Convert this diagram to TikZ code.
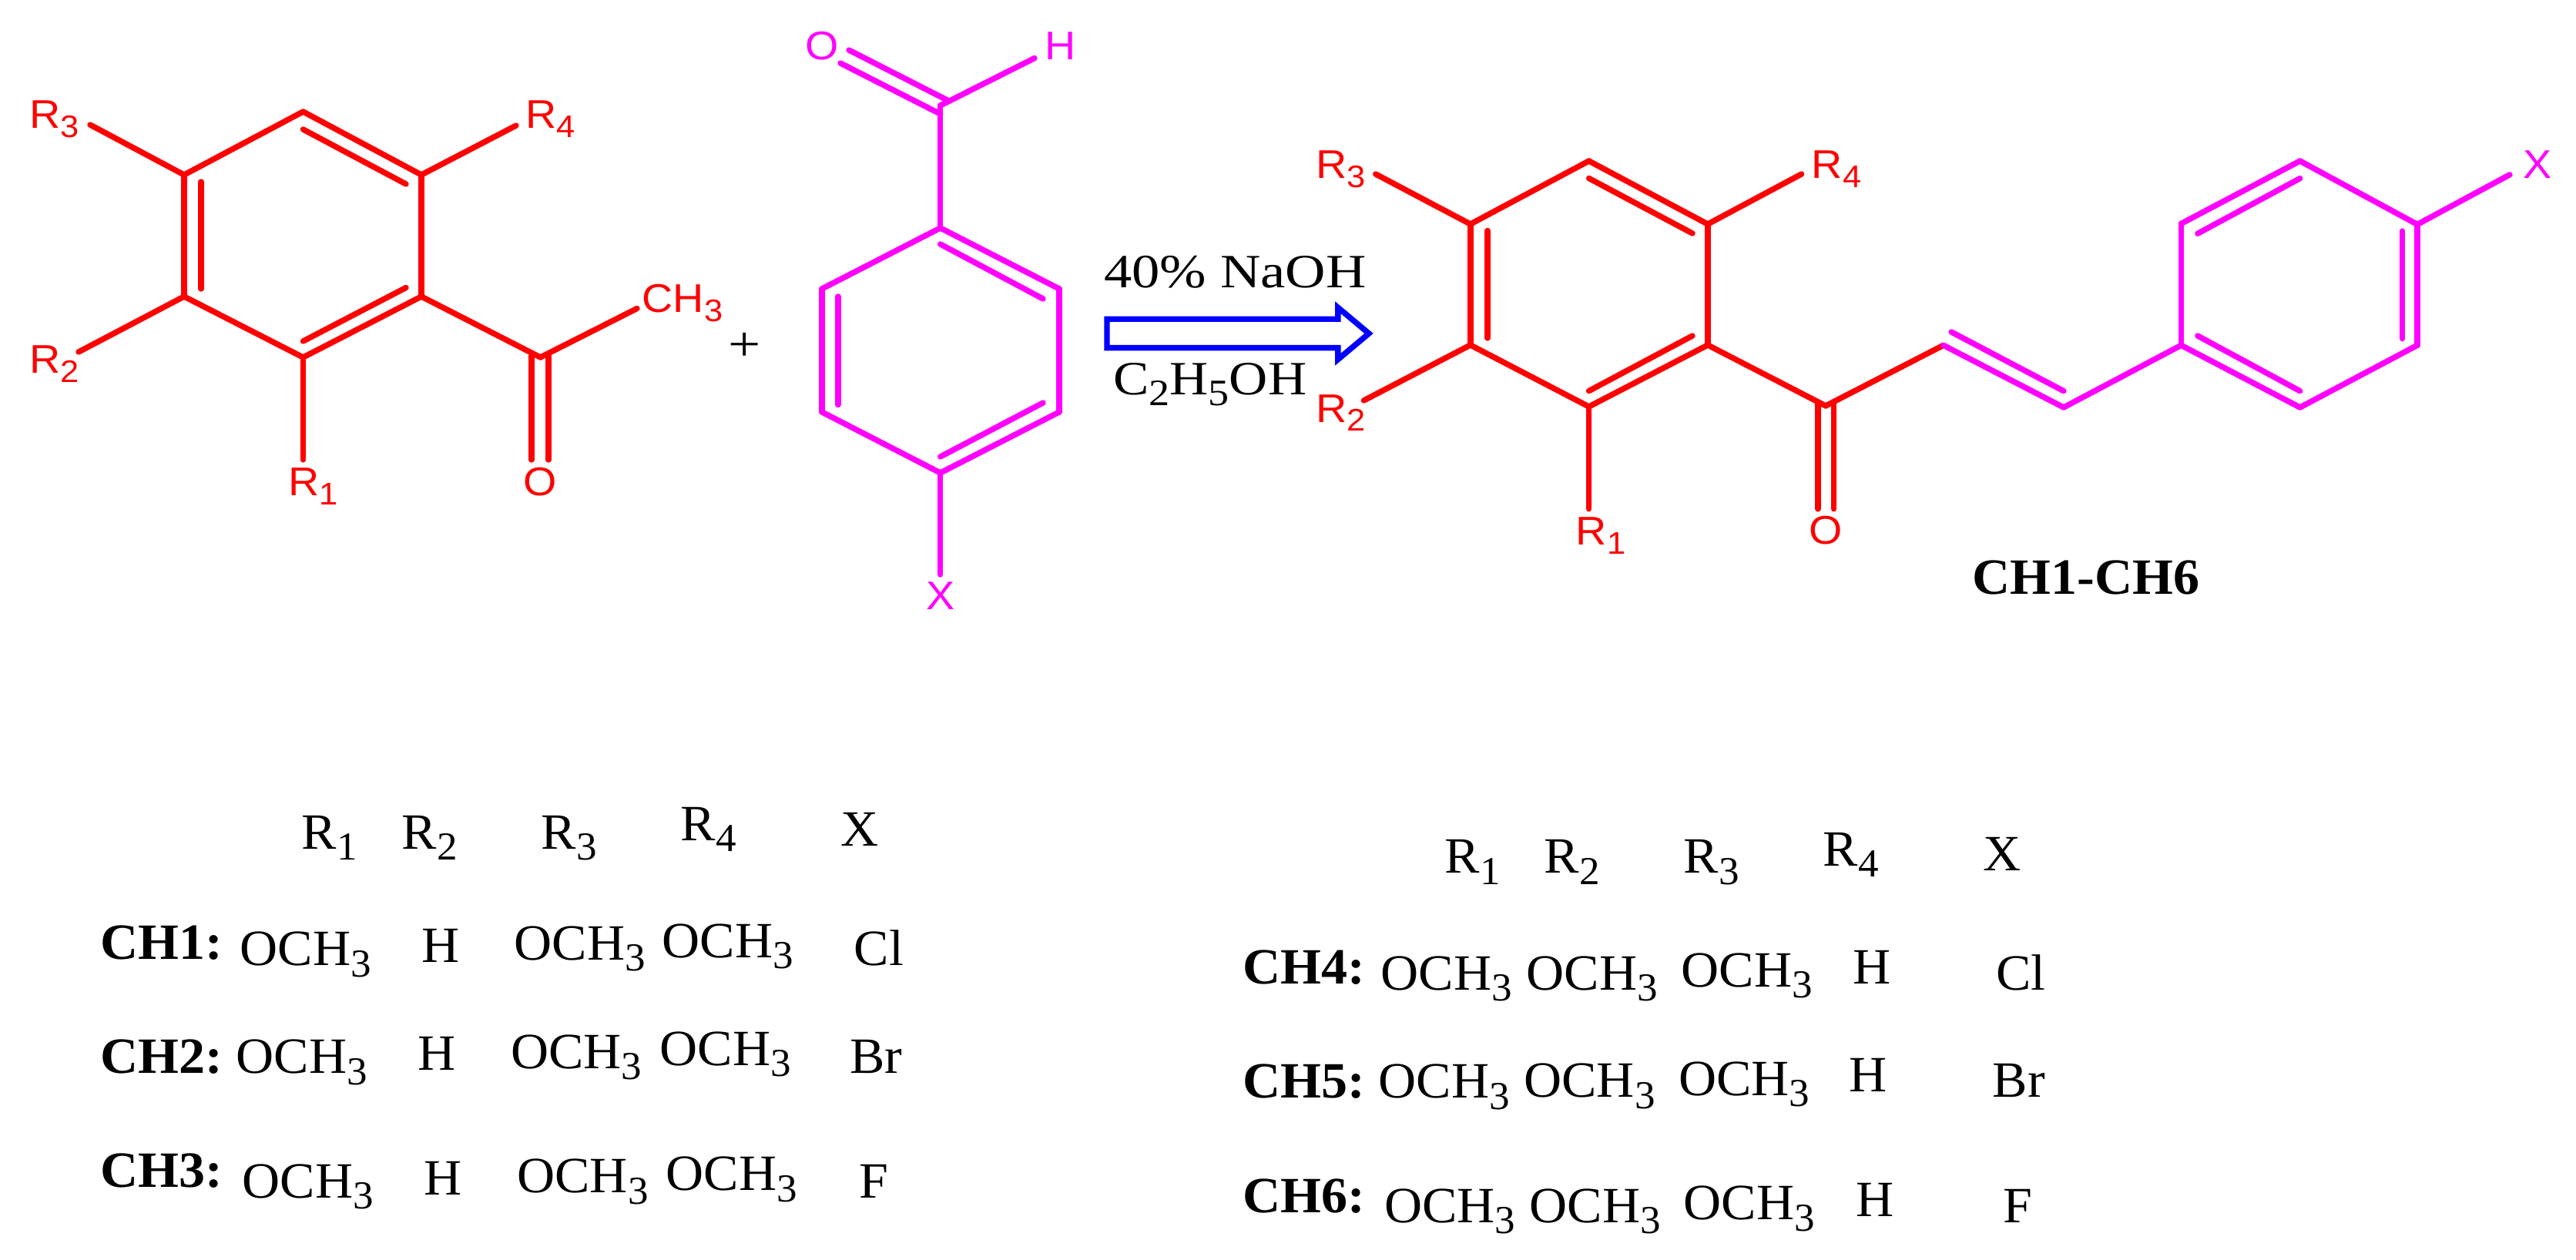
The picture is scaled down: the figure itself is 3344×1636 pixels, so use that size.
\documentclass[tikz,border=0pt]{standalone}
\usepackage{fontspec}
\usepackage{graphicx}
\usetikzlibrary{shapes.arrows}
\newfontfamily\chemfont[FakeStretch=1.07]{Liberation Sans}
\newfontfamily\tabfont[FakeStretch=1.03]{Liberation Serif}
\newfontfamily\rxnfont[FakeStretch=1.17]{Liberation Serif}
\newfontfamily\etohfont[FakeStretch=1.12]{Liberation Serif}
\newcommand{\lowsub}[1]{\raisebox{-0.22em}{\scalebox{0.78}{#1}}}
\definecolor{chemred}{RGB}{255,0,0}
\definecolor{chempink}{RGB}{255,0,255}
\definecolor{chemblue}{RGB}{0,0,255}
\tikzset{
  redbond/.style={draw=chemred,line width=1.85pt,line cap=round,line join=round},
  pinkbond/.style={draw=chempink,line width=1.85pt,line cap=round,line join=round},
  redlab/.style={text=chemred,anchor=base west,inner sep=0pt,font=\chemfont\fontsize{13}{15}\selectfont},
  pinklab/.style={text=chempink,anchor=base west,inner sep=0pt,font=\chemfont\fontsize{13}{15}\selectfont},
  tab/.style={anchor=base west,inner sep=0pt,font=\tabfont\fontsize{16.5}{19}\selectfont},
  tabhead/.style={anchor=base west,inner sep=0pt,font=\tabfont\bfseries\fontsize{16.5}{19}\selectfont},
  rxn/.style={anchor=base west,inner sep=0pt,font=\rxnfont\fontsize{15.5}{18}\selectfont}
}
\begin{document}
\begin{tikzpicture}[x=0.25pt,y=-0.25pt]
\useasboundingbox (0,0) rectangle (3344,1636);
% left ketone
\coordinate (a1) at (393.5,145);
\coordinate (a2) at (547,227);
\coordinate (a3) at (547,385);
\coordinate (a4) at (393.5,464);
\coordinate (a5) at (239,385);
\coordinate (a6) at (239,227);
\coordinate (a12s) at (393.5,168);
\coordinate (a12e) at (527,239);
\coordinate (a34s) at (527,373.5);
\coordinate (a34e) at (393.5,443);
\coordinate (a56s) at (261,375);
\coordinate (a56e) at (261,236);
\coordinate (ar3) at (117,162);
\coordinate (ar4) at (670,163);
\coordinate (ar2) at (102,457);
\coordinate (ar1) at (393.5,597);
\coordinate (ac) at (701.5,464);
\coordinate (ame) at (827,400.5);
\coordinate (ao1s) at (690,462);
\coordinate (ao1e) at (690,597);
\coordinate (ao2s) at (712,462);
\coordinate (ao2e) at (712,597);
\node[redlab] (ra3) at (38,167) {R\lowsub{3}};
\node[redlab] (ra4) at (682,167) {R\lowsub{4}};
\node[redlab] (ra2) at (38,485) {R\lowsub{2}};
\node[redlab] (ra1) at (374,644) {R\lowsub{1}};
\node[redlab] (mea) at (833,406) {CH\lowsub{3}};
\node[redlab,anchor=base] (oa) at (701.5,644) {O};
\draw[redbond]
(a1) edge (a2)
(a2) edge (a3)
(a3) edge (a4)
(a4) edge (a5)
(a5) edge (a6)
(a6) edge (a1)
(a12s) edge (a12e)
(a34s) edge (a34e)
(a56s) edge (a56e)
(a6) edge (ar3)
(a2) edge (ar4)
(a5) edge (ar2)
(a4) edge (ar1)
(a3) edge (ac)
(ac) edge (ame)
(ao1s) edge (ao1e)
(ao2s) edge (ao2e);
\node[rxn,anchor=center,font=\rxnfont\fontsize{16}{18}\selectfont] (plus) at (967,450) {+};
% aldehyde
\coordinate (b1) at (1220.7,296);
\coordinate (b2) at (1375,375);
\coordinate (b3) at (1375,535);
\coordinate (b4) at (1220.7,614);
\coordinate (b5) at (1067,535);
\coordinate (b6) at (1067,375);
\coordinate (b12s) at (1220.7,317);
\coordinate (b12e) at (1354,388);
\coordinate (b34s) at (1354,523);
\coordinate (b34e) at (1220.7,593);
\coordinate (b56s) at (1088,525.5);
\coordinate (b56e) at (1088,385);
\coordinate (bc) at (1220.7,137);
\coordinate (bh) at (1343,75.5);
\coordinate (bo1s) at (1091,82);
\coordinate (bo1e) at (1220.7,148);
\coordinate (bo2s) at (1102,65);
\coordinate (bo2e) at (1229.6,130);
\coordinate (bx) at (1220.7,746);
\node[pinklab,anchor=base] (ob) at (1067,77.5) {O};
\node[pinklab] (hb) at (1356,77.5) {H};
\node[pinklab,anchor=base] (xb) at (1220.7,792) {X};
\draw[pinkbond]
(b1) edge (b2)
(b2) edge (b3)
(b3) edge (b4)
(b4) edge (b5)
(b5) edge (b6)
(b6) edge (b1)
(b12s) edge (b12e)
(b34s) edge (b34e)
(b56s) edge (b56e)
(b1) edge (bc)
(bc) edge (bh)
(bo1s) edge (bo1e)
(bo2s) edge (bo2e)
(b4) edge (bx);
% arrow
\node[rxn] (naoh) at (1432.4,373.5) {40\% NaOH};
\node[rxn,font=\etohfont\fontsize{15.5}{18}\selectfont] (etoh) at (1444.5,512.8) {C\lowsub{2}H\lowsub{5}OH};
\node[single arrow,draw=chemblue,line width=1.85pt,anchor=tail,outer sep=0pt,inner sep=0pt,
  text width=0pt,text height=7.5pt,text depth=0pt,minimum height=85pt,minimum width=15.5pt,
  single arrow head extend=3.75pt,single arrow tip angle=80] (rxnarrow) at (1437,433) {};
% chalcone
\coordinate (c1) at (2062.6,209);
\coordinate (c2) at (2216.9,291);
\coordinate (c3) at (2216.9,448);
\coordinate (c4) at (2062.6,528);
\coordinate (c5) at (1908.8,448);
\coordinate (c6) at (1908.8,291);
\coordinate (c12s) at (2062.6,231.5);
\coordinate (c12e) at (2197,303);
\coordinate (c34s) at (2197,436);
\coordinate (c34e) at (2062.6,507.6);
\coordinate (c56s) at (1931,439);
\coordinate (c56e) at (1931,299.5);
\coordinate (cr3) at (1785.7,226);
\coordinate (cr4) at (2338.6,226);
\coordinate (cr2) at (1770.4,520);
\coordinate (cr1) at (2062.6,660.8);
\coordinate (cc) at (2370,527);
\coordinate (co1s) at (2360,523.4);
\coordinate (co1e) at (2360,660.8);
\coordinate (co2s) at (2380.6,523.4);
\coordinate (co2e) at (2380.6,660.8);
\coordinate (v1) at (2522.8,448.3);
\coordinate (v2) at (2678.9,529);
\coordinate (v12s) at (2533,431);
\coordinate (v12e) at (2678.9,507.7);
\coordinate (d1) at (2985.7,209);
\coordinate (d2) at (3138,291.4);
\coordinate (d3) at (3138,448.3);
\coordinate (d4) at (2985.7,529);
\coordinate (d5) at (2831.4,448.3);
\coordinate (d6) at (2831.4,290.4);
\coordinate (d61s) at (2852.8,303.3);
\coordinate (d61e) at (2985.7,231.6);
\coordinate (d23s) at (3118.6,300);
\coordinate (d23e) at (3118.6,439.7);
\coordinate (d45s) at (2985.7,507.7);
\coordinate (d45e) at (2852.8,436);
\coordinate (dx) at (3258,226.8);
\node[redlab] (rc3) at (1708,232) {R\lowsub{3}};
\node[redlab] (rc4) at (2351,231.6) {R\lowsub{4}};
\node[redlab] (rc2) at (1708,548.5) {R\lowsub{2}};
\node[redlab] (rc1) at (2045,707.6) {R\lowsub{1}};
\node[redlab,anchor=base] (oc) at (2370,706.7) {O};
\node[pinklab,anchor=base] (xd) at (3294,231.6) {X};
\draw[redbond]
(c1) edge (c2)
(c2) edge (c3)
(c3) edge (c4)
(c4) edge (c5)
(c5) edge (c6)
(c6) edge (c1)
(c12s) edge (c12e)
(c34s) edge (c34e)
(c56s) edge (c56e)
(c6) edge (cr3)
(c2) edge (cr4)
(c5) edge (cr2)
(c4) edge (cr1)
(c3) edge (cc)
(cc) edge (v1)
(co1s) edge (co1e)
(co2s) edge (co2e);
\draw[pinkbond]
(v1) edge (v2)
(v12s) edge (v12e)
(v2) edge (d5)
(d1) edge (d2)
(d2) edge (d3)
(d3) edge (d4)
(d4) edge (d5)
(d5) edge (d6)
(d6) edge (d1)
(d61s) edge (d61e)
(d23s) edge (d23e)
(d45s) edge (d45e)
(d2) edge (dx);
\node[tabhead] (title) at (2560,772) {CH1-CH6};
% left table
\node[tab] (lr1) at (391,1102) {R\lowsub{1}};
\node[tab] (lr2) at (521,1102) {R\lowsub{2}};
\node[tab] (lr3) at (702,1102) {R\lowsub{3}};
\node[tab] (lr4) at (883,1091) {R\lowsub{4}};
\node[tab] (lx) at (1091,1098) {X};
\node[tabhead] (ch1) at (130,1245.4) {CH1:};
\node[tab] (ch1a) at (311,1253.5) {OCH\lowsub{3}};
\node[tab] (ch1b) at (546.8,1249.5) {H};
\node[tab] (ch1c) at (667,1246) {OCH\lowsub{3}};
\node[tab] (ch1d) at (859,1243) {OCH\lowsub{3}};
\node[tab] (ch1e) at (1108,1253.5) {Cl};
\node[tabhead] (ch2) at (130,1393.5) {CH2:};
\node[tab] (ch2a) at (306,1393.5) {OCH\lowsub{3}};
\node[tab] (ch2b) at (542,1389.4) {H};
\node[tab] (ch2c) at (662.6,1387.4) {OCH\lowsub{3}};
\node[tab] (ch2d) at (856,1383.4) {OCH\lowsub{3}};
\node[tab] (ch2e) at (1102.6,1393.5) {Br};
\node[tabhead] (ch3) at (130,1541.6) {CH3:};
\node[tab] (ch3a) at (314,1555) {OCH\lowsub{3}};
\node[tab] (ch3b) at (550,1551.7) {H};
\node[tab] (ch3c) at (670.7,1548.5) {OCH\lowsub{3}};
\node[tab] (ch3d) at (864,1545.6) {OCH\lowsub{3}};
\node[tab] (ch3e) at (1114.7,1555) {F};
% right table
\node[tab] (rr1) at (1875,1133.9) {R\lowsub{1}};
\node[tab] (rr2) at (2004,1133.9) {R\lowsub{2}};
\node[tab] (rr3) at (2185,1133.9) {R\lowsub{3}};
\node[tab] (rr4) at (2366,1124.4) {R\lowsub{4}};
\node[tab] (rx) at (2573.8,1130.5) {X};
\node[tabhead] (ch4) at (1613,1277.5) {CH4:};
\node[tab] (ch4a) at (1792,1285) {OCH\lowsub{3}};
\node[tab] (ch4b) at (1981,1285) {OCH\lowsub{3}};
\node[tab] (ch4c) at (2182,1281.4) {OCH\lowsub{3}};
\node[tab] (ch4d) at (2405,1277.5) {H};
\node[tab] (ch4e) at (2590.6,1285) {Cl};
\node[tabhead] (ch5) at (1613,1425.8) {CH5:};
\node[tab] (ch5a) at (1789,1425.8) {OCH\lowsub{3}};
\node[tab] (ch5b) at (1977.7,1424.6) {OCH\lowsub{3}};
\node[tab] (ch5c) at (2178.5,1422) {OCH\lowsub{3}};
\node[tab] (ch5d) at (2400,1417.4) {H};
\node[tab] (ch5e) at (2586,1424.6) {Br};
\node[tabhead] (ch6) at (1613,1574) {CH6:};
\node[tab] (ch6a) at (1796.6,1587.3) {OCH\lowsub{3}};
\node[tab] (ch6b) at (1985,1587.3) {OCH\lowsub{3}};
\node[tab] (ch6c) at (2185,1583.5) {OCH\lowsub{3}};
\node[tab] (ch6d) at (2409,1579.7) {H};
\node[tab] (ch6e) at (2599.4,1587.3) {F};
\end{tikzpicture}
\end{document}
